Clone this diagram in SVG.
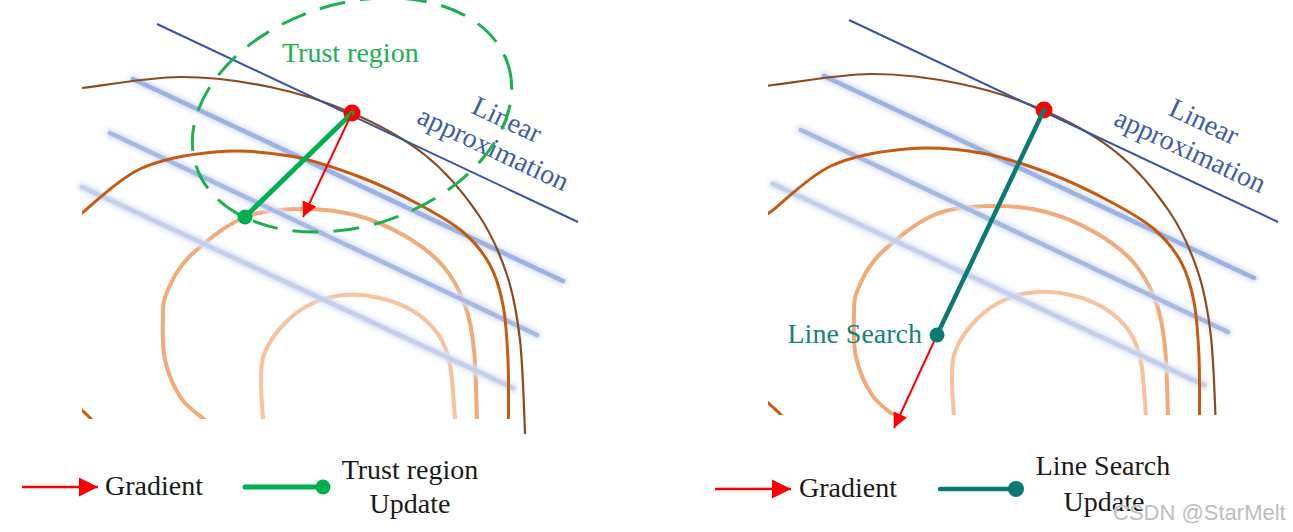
<svg xmlns="http://www.w3.org/2000/svg" width="1293" height="532" viewBox="0 0 1293 532">
<style>
.serif{font-family:"Liberation Serif","Times New Roman",serif;font-size:28px}
.dark{fill:#1a1a1a}
.arcA{fill:none;stroke:#8A4B1E;stroke-width:2.2}
.arcB{fill:none;stroke:#C55A11;stroke-width:3}
.arcC{fill:none;stroke:#F2AA7A;stroke-width:4}
.arcD{fill:none;stroke:#F7C29C;stroke-width:4}
.iso{fill:none;stroke-width:4.5;stroke-linecap:round}
.glow{fill:none;stroke:#D9E2F5;stroke-width:9;stroke-linecap:round;filter:url(#blur)}
.tangent{stroke:#3654A2;stroke-width:2;fill:none}
.grad{stroke:#FF0000;stroke-width:2;fill:none;marker-end:url(#arrowRed)}
.gradLeg{stroke:#FF0000;stroke-width:2.6;fill:none;marker-end:url(#arrowRed)}
.green{stroke:#00B050;stroke-width:5;fill:none;stroke-linecap:round}
.teal{stroke:#0A7B72;stroke-width:4.5;fill:none;stroke-linecap:round}
.lin{fill:#3D5DA8;text-anchor:middle}
</style>
<defs>
  <filter id="blur" x="-20%" y="-30%" width="140%" height="160%"><feGaussianBlur stdDeviation="2"/></filter>
  <marker id="arrowRed" viewBox="0 0 10 10" refX="10" refY="5" markerWidth="7.5" markerHeight="7.5" orient="auto" markerUnits="strokeWidth">
    <path d="M0,0 L10,5 L0,10 z" fill="#FF0000"/>
  </marker>
  <clipPath id="clipL"><rect x="82" y="0" width="470" height="419"/></clipPath>
  <clipPath id="clipLA"><rect x="82" y="0" width="470" height="434"/></clipPath>
  <clipPath id="clipR"><rect x="77" y="0" width="475" height="418"/></clipPath>
  <g id="peach">
    <path class="arcC" d="M211,425 L205,420 C201,416.3 187.7,408 181,398 C174.3,388 168,373.3 165,360 C162,346.7 162.7,329.3 163,318 C163.3,306.7 162.5,302.3 167,292 C171.5,281.7 177.3,268.3 190,256 C202.7,243.7 224.7,225.8 243,218 C261.3,210.2 281.3,209.5 300,209 C318.7,208.5 337.5,210.5 355,215 C372.5,219.5 390.3,227.5 405,236 C419.7,244.5 433,254.5 443,266 C453,277.5 459.8,291 465,305 C470.2,319 472,330.8 474,350 C476,369.2 476.5,408.3 477,420 L477,425"/>
    <path class="arcD" d="M263,425 L263,420 C262.7,413.3 260.7,391.3 261,380 C261.3,368.7 261,361.5 265,352 C269,342.5 277,331.2 285,323 C293,314.8 303,307.7 313,303 C323,298.3 333.8,295.8 345,295 C356.2,294.2 368.7,295.3 380,298 C391.3,300.7 403.3,305 413,311 C422.7,317 431.8,325 438,334 C444.2,343 447.2,350.7 450,365 C452.8,379.3 454.2,410.8 455,420 L455.3,425"/>
  </g>
  <g id="isolines">
    <line class="glow" x1="133" y1="79" x2="563" y2="281"/>
    <line class="glow" x1="110" y1="133" x2="537" y2="335"/>
    <line class="glow" x1="82" y1="187" x2="513" y2="388"/>
    <line class="iso" stroke="#9CB2E2" x1="133" y1="79" x2="563" y2="281"/>
    <line class="iso" stroke="#A6B9E4" x1="110" y1="133" x2="537" y2="335"/>
    <line class="iso" stroke="#C4CFEB" x1="82" y1="187" x2="513" y2="388"/>
  </g>
  <g id="brown">
    <path class="arcB" d="M72,220.4 L82,213 C91.7,205.7 117.8,179.2 140,169 C162.2,158.8 190,154.2 215,152 C240,149.8 265.8,151.8 290,156 C314.2,160.2 338.3,168.8 360,177 C381.7,185.2 402.8,195.8 420,205 C437.2,214.2 451.3,222 463,232 C474.7,242 483.3,252.8 490,265 C496.7,277.2 500,289.2 503,305 C506,320.8 507.1,340 508,360 C508.9,380 508.4,414.2 508.5,425"/>
    <path class="arcB" d="M60,392 Q80,407 97,425"/>
  </g>
  <path id="outer" class="arcA" d="M72,89.2 L82,88 C98.3,86.2 148.7,77.2 180,77 C211.3,76.8 241.3,81 270,87 C298.7,93 326.2,101.7 352,113 C377.8,124.3 404,138.2 425,155 C446,171.8 464.3,194 478,214 C491.7,234 500,254 507,275 C514,296 517,313.8 520,340 C523,366.2 524.2,416.7 525,432 L525,436"/>
</defs>

<g id="left-panel">
  <g id="left-contours">
    <use href="#peach" clip-path="url(#clipL)"/>
    <use href="#isolines"/>
    <use href="#brown" clip-path="url(#clipL)"/>
    <use href="#outer" clip-path="url(#clipLA)"/>
  </g>
  <line id="left-tangent" class="tangent" x1="157" y1="24" x2="578" y2="222"/>
  <g id="left-linear-label" transform="translate(503,128) rotate(25)">
    <text class="serif lin" x="0" y="0">Linear</text>
    <text class="serif lin" x="0" y="32">approximation</text>
  </g>
  <g id="trust-region">
    <ellipse cx="352" cy="115" rx="164" ry="111" transform="rotate(-18 352 115)" fill="none" stroke="#1DB050" stroke-width="3" stroke-dasharray="26 15"/>
    <text class="serif" x="282" y="62" fill="#1EAF52">Trust region</text>
  </g>
  <g id="left-current-point"><circle cx="352" cy="113" r="8.5" fill="#FF0000"/></g>
  <g id="left-connectors">
    <line class="green" x1="352" y1="113" x2="245" y2="217"/>
    <line class="grad" x1="352" y1="113" x2="303" y2="217"/>
  </g>
  <g id="trust-update-point"><circle cx="245" cy="217" r="7.5" fill="#00B050"/></g>
</g>

<g id="right-panel">
  <g id="right-contours" transform="translate(691,-3)">
    <use href="#peach" clip-path="url(#clipR)"/>
    <use href="#isolines"/>
    <use href="#brown" clip-path="url(#clipR)"/>
    <use href="#outer" clip-path="url(#clipR)"/>
  </g>
  <line id="right-tangent" class="tangent" x1="849" y1="20" x2="1278" y2="222"/>
  <g id="right-linear-label" transform="translate(1200,130) rotate(25)">
    <text class="serif lin" x="0" y="0">Linear</text>
    <text class="serif lin" x="0" y="32">approximation</text>
  </g>
  <g id="right-current-point"><circle cx="1044" cy="110" r="8.5" fill="#FF0000"/></g>
  <g id="right-connectors">
    <line class="teal" x1="1044" y1="110" x2="937" y2="335"/>
    <line class="grad" x1="937" y1="335" x2="894" y2="428"/>
  </g>
  <g id="line-search-point">
    <circle cx="937" cy="335" r="7.5" fill="#0A7B72"/>
    <text class="serif" x="922" y="343" fill="#14837A" text-anchor="end">Line Search</text>
  </g>
</g>

<g id="legend-left">
  <line class="gradLeg" x1="22" y1="487" x2="98" y2="487"/>
  <text class="serif dark" x="105" y="495">Gradient</text>
  <line class="green" x1="245" y1="487" x2="323" y2="487"/>
  <circle cx="323" cy="487" r="7.5" fill="#00B050"/>
  <text class="serif dark" x="410" y="479" text-anchor="middle">Trust region</text>
  <text class="serif dark" x="410" y="513" text-anchor="middle">Update</text>
</g>
<g id="legend-right">
  <line class="gradLeg" x1="715" y1="489" x2="791" y2="489"/>
  <text class="serif dark" x="799" y="497">Gradient</text>
  <line class="teal" x1="940" y1="489" x2="1016" y2="489" stroke-width="5"/>
  <circle cx="1016" cy="489" r="8" fill="#0A7B72"/>
  <text class="serif dark" x="1103" y="475" text-anchor="middle">Line Search</text>
  <text class="serif dark" x="1104" y="511" text-anchor="middle">Update</text>
</g>
<text id="watermark" x="1113" y="520" font-family="'Liberation Sans',Arial,sans-serif" font-size="22" fill="#BDBDBD" stroke="#FFFFFF" stroke-width="1" paint-order="stroke">CSDN @StarMelt</text>
</svg>
